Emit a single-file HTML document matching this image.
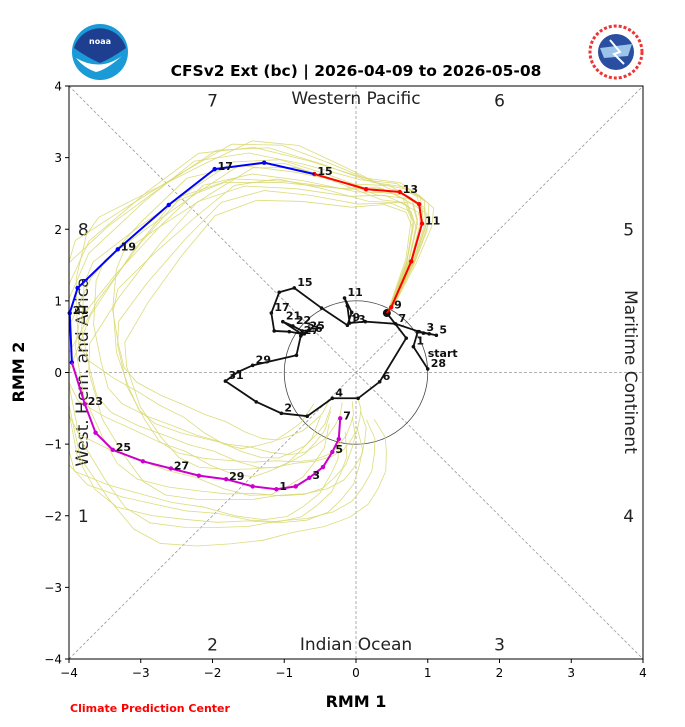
<!DOCTYPE html>
<html><head><meta charset="utf-8"><style>
html,body{margin:0;padding:0;background:#fff;}
svg{display:block;font-family:"DejaVu Sans","Liberation Sans",sans-serif;}
</style></head><body>
<svg id="chart" width="685" height="727" viewBox="0 0 685 727" xmlns="http://www.w3.org/2000/svg">
<g>
<circle cx="100" cy="52" r="28" fill="#1a9ad6"/>
<path d="M74,48 A27,27 0 0 1 126,48 Q112,58 100,63 Q88,58 74,48Z" fill="#1e3f8f"/>
<path d="M76,58 Q100,72 122,56 Q106,70 96,72 Q84,68 76,58Z" fill="#fff"/>
<text x="100" y="44" font-size="8" fill="#fff" text-anchor="middle" font-weight="bold">noaa</text>
</g>
<g>
<circle cx="616" cy="52" r="26" fill="#fff" stroke="#e33" stroke-width="3" stroke-dasharray="3 2"/>
<circle cx="616" cy="52" r="18" fill="#2a4fa0"/>
<path d="M600,48 L632,44 L628,56 L604,58Z" fill="#9cc3e8"/>
<path d="M610,40 L620,52 L614,54 L624,64" stroke="#fff" stroke-width="2" fill="none"/>
</g>
<text x="356" y="76" font-size="15.5" font-weight="bold" text-anchor="middle">CFSv2 Ext (bc) | 2026-04-09 to 2026-05-08</text>
<g id="plot"></g>
<text x="356" y="707" font-size="16" font-weight="bold" text-anchor="middle">RMM 1</text>
<text x="24" y="372" font-size="16" font-weight="bold" text-anchor="middle" transform="rotate(-90 24 372)">RMM 2</text>
<text x="70" y="712" font-size="11" font-weight="bold" fill="#f00">Climate Prediction Center</text>
</svg>
<script>
const NS="http://www.w3.org/2000/svg";
const tickValues=[-4,-3,-2,-1,0,1,2,3,4];
const tickLabels=["\u22124","\u22123","\u22122","\u22121","0","1","2","3","4"];
const obsDays=["28","1","2","3","4","5","6","7","8","9","10","11","12","13","14","15","16","17","18","19","20","21","22","23","24","25","26","27","28","29","30","31","1","2","3","4","5","6","7","8"];
const obsShowLabel=[1,1,0,1,0,1,0,1,0,1,0,1,0,1,0,1,0,1,0,0,0,1,1,0,0,1,1,1,0,1,0,1,0,1,0,1,0,1,0,0];
const obsX=[1.00,0.80,0.86,0.94,1.02,1.12,0.88,0.55,0.13,-0.09,-0.12,-0.16,-0.06,-0.12,-0.48,-0.86,-1.07,-1.18,-1.14,-0.93,-0.76,-1.02,-0.88,-0.75,-0.66,-0.69,-0.72,-0.77,-0.83,-1.44,-1.64,-1.82,-1.39,-1.04,-0.68,-0.33,0.03,0.33,0.70,0.43];
const obsY=[0.05,0.36,0.57,0.55,0.54,0.52,0.57,0.68,0.71,0.69,0.93,1.04,0.84,0.66,0.90,1.18,1.12,0.83,0.58,0.57,0.54,0.71,0.65,0.58,0.59,0.57,0.54,0.51,0.24,0.10,0.01,-0.12,-0.41,-0.57,-0.61,-0.36,-0.36,-0.13,0.48,0.83];
const fcDays=["8","9","10","11","12","13","14","15","16","17","18","19","20","21","22","23","24","25","26","27","28","29","30","1","2","3","4","5","6","7"];
const fcX=[0.43,0.49,0.77,0.92,0.88,0.61,0.14,-0.58,-1.28,-1.97,-2.61,-3.32,-3.88,-3.99,-3.96,-3.78,-3.63,-3.39,-2.97,-2.58,-2.19,-1.81,-1.44,-1.11,-0.84,-0.65,-0.46,-0.33,-0.24,-0.22];
const fcY=[0.83,0.91,1.55,2.08,2.35,2.52,2.56,2.77,2.93,2.84,2.34,1.72,1.18,0.83,0.14,-0.44,-0.84,-1.08,-1.24,-1.34,-1.44,-1.49,-1.59,-1.63,-1.59,-1.47,-1.32,-1.11,-0.93,-0.64];
const ensAmp=[1.08,0.92,1.15,0.85,1.0,1.12,0.95,1.05,0.88,1.18,0.97,1.02,0.75,0.8,0.7,1.1];
const ensRot=[0.35,-0.3,0.15,-0.45,0.55,-0.15,0.25,-0.6,0.45,0.05,-0.25,0.7,0.2,-0.1,0.4,-0.35];

const X0=69,X1=643,Y0=659,Y1=86;
const sx=v=>X0+(v+4)/8*(X1-X0);
const sy=v=>Y0-(v+4)/8*(Y0-Y1);
const plot=document.getElementById('plot');
function mk(tag,attrs,parent){const e=document.createElementNS(NS,tag);for(const k in attrs)e.setAttribute(k,attrs[k]);(parent||plot).appendChild(e);return e;}

let g=mk('g',{});


mk('line',{x1:sx(-4),y1:sy(-4),x2:sx(4),y2:sy(4),stroke:'#999','stroke-width':0.8,'stroke-dasharray':'3 2'},g);
mk('line',{x1:sx(-4),y1:sy(4),x2:sx(4),y2:sy(-4),stroke:'#999','stroke-width':0.8,'stroke-dasharray':'3 2'},g);
mk('line',{x1:sx(0),y1:sy(-4),x2:sx(0),y2:sy(4),stroke:'#999','stroke-width':0.8,'stroke-dasharray':'3 2'},g);
mk('line',{x1:sx(-4),y1:sy(0),x2:sx(4),y2:sy(0),stroke:'#999','stroke-width':0.8,'stroke-dasharray':'3 2'},g);
let c=mk('circle',{cx:sx(0),cy:sy(0),r:sx(1)-sx(0),fill:'none',stroke:'#444','stroke-width':0.8});



const phaseNames=["1","2","3","4","5","6","7","8"];
const phaseLX=[-3.8,-2.0,2.0,3.8,3.8,2.0,-2.0,-3.8];
const phaseLY=[-2.0,-3.8,-3.8,-2.0,2.0,3.8,3.8,2.0];
phaseNames.forEach((p,i)=>{const t=mk('text',{x:sx(phaseLX[i]),y:sy(phaseLY[i])+6,'font-size':17,'text-anchor':'middle',fill:'#222'});t.textContent=p;

});
const regions=[["Western Pacific",356,104,0],["Indian Ocean",356,650,0],["West. Hem. and Africa",88,372,-90],["Maritime Continent",625,372,90]];
regions.forEach(r=>{const t=mk('text',{x:r[1],y:r[2],'font-size':17,'text-anchor':'middle',fill:'#222',transform:'rotate('+r[3]+' '+r[1]+' '+r[2]+')'});t.textContent=r[0];

});

const ge=mk('g',{});


ensAmp.forEach((a,k)=>{
  const n=fcX.length;let pts=[];
  for(let i=0;i<n;i++){const f=i/(n-1);const th=ensRot[k]*f;const am=1+(a-1)*f*1.6;
    const x=(fcX[i]*Math.cos(th)-fcY[i]*Math.sin(th))*am, y=(fcX[i]*Math.sin(th)+fcY[i]*Math.cos(th))*am;
    pts.push(sx(Math.max(-4,Math.min(4,x)))+','+sy(Math.max(-4,Math.min(4,y))));}
  const pl=mk('polyline',{points:pts.join(' '),fill:'none',stroke:'#d8d870','stroke-width':0.8,opacity:0.9},ge);
  
  
});

const go=mk('g',{});


mk('polyline',{points:obsX.map((x,i)=>sx(x)+','+sy(obsY[i])).join(' '),fill:'none',stroke:'#111','stroke-width':1.8},go);
obsX.forEach((x,i)=>{const d=mk('circle',{cx:sx(x),cy:sy(obsY[i]),r:i==obsX.length-1?4:1.8,fill:'#111'},go);
  
  
  if(obsShowLabel[i]){const t=mk('text',{x:sx(x)+3,y:sy(obsY[i])-2,'font-size':11,'font-weight':'bold',fill:'#111'},go);t.textContent=obsDays[i];
  
  }
});
const st=mk('text',{x:sx(obsX[0])+0,y:sy(obsY[0])-12,'font-size':11,'font-weight':'bold',fill:'#111'},go);st.textContent='start';



const segs=[[0,7,'#f00','week1'],[7,14,'#00f','week2'],[14,fcX.length-1,'#c0c','weeks3-4']];
segs.forEach(s=>{const gs=mk('g',{});
  
  
  let pts=[];for(let i=s[0];i<=s[1];i++)pts.push(sx(fcX[i])+','+sy(fcY[i]));
  mk('polyline',{points:pts.join(' '),fill:'none',stroke:s[2],'stroke-width':2},gs);
  for(let i=s[0]+1;i<=s[1];i++){const d=mk('circle',{cx:sx(fcX[i]),cy:sy(fcY[i]),r:2.2,fill:s[2]},gs);
    
    }
});
fcX.forEach((x,i)=>{if(i%2==1){const t=mk('text',{x:sx(x)+3,y:sy(fcY[i])+1,'font-size':11,'font-weight':'bold',fill:'#111'});t.textContent=fcDays[i];
  
  }});

const fr=mk('rect',{x:X0,y:Y1,width:X1-X0,height:Y0-Y1,fill:'none',stroke:'#000','stroke-width':1});


tickValues.forEach((v,i)=>{
  mk('line',{x1:sx(v),y1:Y0,x2:sx(v),y2:Y0+4,stroke:'#000'});
  const tx=mk('text',{x:sx(v),y:Y0+18,'font-size':12,'text-anchor':'middle'});tx.textContent=tickLabels[i];
  
  
  mk('line',{x1:X0-4,y1:sy(v),x2:X0,y2:sy(v),stroke:'#000'});
  const ty=mk('text',{x:X0-7,y:sy(v)+4.5,'font-size':12,'text-anchor':'end'});ty.textContent=tickLabels[i];
  
  
});
</script>
</body></html>
